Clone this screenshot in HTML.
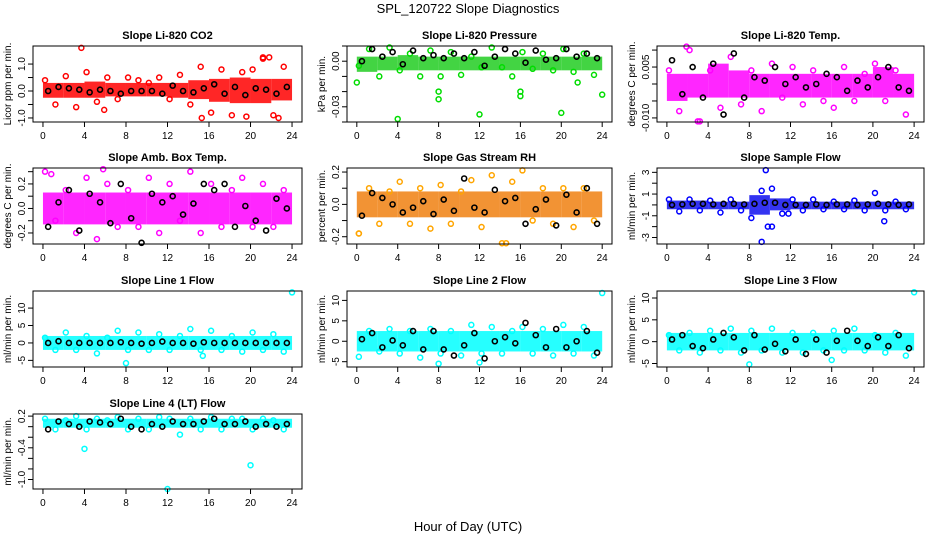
<!DOCTYPE html>
<html><head><meta charset="utf-8"><style>
html,body{margin:0;padding:0;background:#fff;}
svg{display:block;font-family:"Liberation Sans",sans-serif;}
</style></head><body>
<svg id="chart" width="936" height="540" viewBox="0 0 936 540">
<text x="468" y="13" font-size="13" text-anchor="middle">SPL_120722  Slope Diagnostics</text>
<text x="468" y="531" font-size="13" text-anchor="middle">Hour of Day (UTC)</text>
</svg>
<script>
// shared hours
const hoursColored = [0.2,1.2,2.2,3.2,4.2,5.2,6.2,7.2,8.2,9.2,10.2,11.2,12.2,13.2,14.2,15.2,16.2,17.2,18.2,19.2,20.2,21.2,22.2,23.2];
const hoursBlack = [0.5,1.5,2.5,3.5,4.5,5.5,6.5,7.5,8.5,9.5,10.5,11.5,12.5,13.5,14.5,15.5,16.5,17.5,18.5,19.5,20.5,21.5,22.5,23.5];
const bandStarts = [0,2,4,6,8,10,12,14,16,18,20,22];
const xTicks = [0,4,8,12,16,20,24];

const titles = ["Slope Li-820 CO2","Slope Li-820 Pressure","Slope Li-820 Temp.","Slope Amb. Box Temp.","Slope Gas Stream RH","Slope Sample Flow","Slope Line 1 Flow","Slope Line 2 Flow","Slope Line 3 Flow","Slope Line 4 (LT) Flow"];
const yTitles = ["Licor ppm per min.","kPa per min.","degrees C per min.","degrees C per min.","percent per min.","ml/min per min.","ml/min per min.","ml/min per min.","ml/min per min.","ml/min per min."];
const yLims = [[-1.15,1.67],[-0.04,0.01],[-0.0112,0.0112],[-0.29,0.33],[-0.245,0.225],[-3.6,3.4],[-6.9,14.9],[-6.3,12.3],[-5.8,11.6],[-1.18,0.24]];
const yTickMarks = [[-1,-0.5,0,0.5,1],[-0.04,-0.03,-0.02,-0.01,0,0.01],[-0.01,-0.005,0,0.005,0.01],[-0.2,-0.1,0,0.1,0.2,0.3],[-0.2,-0.1,0,0.1,0.2],[-3,-2,-1,0,1,2,3],[-5,0,5,10],[-5,0,5,10],[-5,0,5,10],[-1.0,-0.8,-0.6,-0.4,-0.2,0,0.2]];
const yTickLabels = [[-1,"-1.0",0,"0.0",1,"1.0"],[0,"0.00",-0.03,"-0.03"],[0.005,"0.005",-0.01,"-0.010"],[-0.2,"-0.2",0,"0.0",0.2,"0.2"],[-0.2,"-0.2",0,"0.0",0.2,"0.2"],[-3,"-3",-1,"-1",1,"1",3,"3"],[-5,"-5",0,"0",5,"5",10,"10"],[-5,"-5",0,"0",5,"5",10,"10"],[-5,"-5",0,"0",5,"5",10,"10"],[-1,"-1.0",-0.4,"-0.4",0.2,"0.2"]];
const colors = ["#ff0000","#00dd00","#ff00ff","#ff00ff","#ffa500","#0000ff","#00ffff","#00ffff","#00ffff","#00ffff"];
const bandColors = ["#ff0000","#22cc22","#ff00ff","#ff00ff","#f08010","#1010ee","#00ffff","#00ffff","#00ffff","#00ffff"];

const bandLo = [
[-0.25,-0.25,-0.25,-0.2,-0.2,-0.2,-0.25,-0.3,-0.4,-0.45,-0.45,-0.35],
[-0.007,-0.006,-0.006,-0.006,-0.006,-0.006,-0.006,-0.006,-0.006,-0.006,-0.006,-0.006],
[-0.005,-0.004,-0.004,-0.004,-0.004,-0.004,-0.004,-0.004,-0.004,-0.004,-0.004,-0.004],
[-0.13,-0.13,-0.13,-0.13,-0.13,-0.13,-0.13,-0.13,-0.13,-0.13,-0.13,-0.13],
[-0.08,-0.08,-0.08,-0.08,-0.08,-0.08,-0.08,-0.08,-0.08,-0.08,-0.08,-0.08],
[-0.4,-0.4,-0.4,-0.4,-0.9,-0.5,-0.4,-0.4,-0.4,-0.4,-0.4,-0.4],
[-2,-2,-2,-2,-2,-2,-2,-2,-2,-2,-2,-2],
[-2.5,-2.5,-2.5,-2.5,-2.5,-2.5,-2.5,-2.5,-2.5,-2.5,-2.5,-2.5],
[-2,-2,-2,-2,-2,-2,-2,-2,-2,-2,-2,-2],
[-0.02,-0.02,-0.02,-0.02,-0.02,-0.02,-0.02,-0.02,-0.02,-0.02,-0.02,-0.02]];
const bandHi = [
[0.3,0.3,0.35,0.3,0.3,0.3,0.3,0.4,0.45,0.5,0.45,0.45],
[0.003,0.003,0.004,0.003,0.003,0.003,0.003,0.003,0.003,0.003,0.003,0.003],
[0.003,0.003,0.006,0.004,0.003,0.003,0.003,0.003,0.003,0.003,0.005,0.003],
[0.13,0.13,0.13,0.13,0.13,0.13,0.13,0.13,0.13,0.13,0.13,0.13],
[0.08,0.08,0.08,0.08,0.08,0.08,0.08,0.08,0.08,0.08,0.08,0.08],
[0.4,0.4,0.3,0.3,0.9,0.6,0.3,0.3,0.3,0.3,0.3,0.3],
[2,2,2,2,2,2,2,2,2,2,2,2],
[2.5,2.5,2.5,2.5,2.5,2.5,2.5,2.5,2.5,2.5,2.5,2.5],
[2,2,2,2,2,2,2,2,2,2,2,2],
[0.15,0.15,0.15,0.15,0.15,0.15,0.15,0.15,0.15,0.15,0.15,0.15]];

const coloredVals = [
[0.4,-0.5,0.55,-0.6,0.7,-0.4,0.5,-0.3,0.5,0.4,0.3,0.5,-0.3,0.6,-0.5,0.9,-0.8,0.8,-0.9,0.7,0.8,1.2,-0.9,0.9],
[-0.003,0.008,-0.01,0.009,-0.006,0.005,-0.01,0.007,-0.01,0.006,-0.009,0.003,-0.004,0.009,-0.004,-0.01,0.006,-0.005,0.005,-0.006,0.008,-0.007,0.005,-0.009],
[0.004,-0.008,0.01,-0.011,0.004,-0.007,0.008,-0.006,0.004,-0.008,0.006,-0.004,0.005,-0.006,0.004,-0.005,-0.007,0.005,-0.005,0.003,0.006,-0.005,0.004,-0.009],
[0.3,-0.1,0.15,-0.2,0.25,-0.25,0.2,-0.15,0.15,-0.15,0.25,-0.2,0.2,-0.1,0.3,-0.2,0.2,-0.15,0.15,0.25,-0.15,0.2,-0.15,0.15],
[-0.18,0.1,-0.12,0.08,0.14,-0.12,0.1,-0.15,0.12,-0.12,0.08,0.15,-0.14,0.18,-0.24,0.14,0.21,-0.1,0.1,-0.12,0.1,-0.14,0.1,-0.1],
[0.5,-0.6,0.5,-0.5,0.4,-0.7,0.5,-0.5,-1.2,1.3,1.5,-0.8,0.5,-0.5,0.5,-0.4,0.3,-0.4,0.4,-0.5,1.1,-0.5,0.3,-0.4],
[1.5,-2,3,-2,2,-3,1.5,3.5,-2,3,-2,2.5,-2,2,4,-2,3.5,-2,2,-2.5,3,-2,2.5,-2.5],
[-3.8,2.5,-2.5,3,-3,2.5,-4,3,-3,2.5,-3.5,4,-3,3.5,-3,2.5,3.5,-3,3,-3.5,4,-3,3.5,-3.5],
[1.5,-2,2,-2.5,2.5,-2,3,-2.5,2.5,-2,3,-2.5,2,-2.5,2,-2,2.5,-2,3,-2,1.5,-2.5,2,-3.2],
[0.15,-0.05,0.12,0.2,-0.05,0.15,0.12,0.18,-0.05,0.15,-0.05,0.18,0.15,-0.15,0.15,-0.05,0.18,-0.05,0.15,0.15,-0.05,0.15,0.12,-0.05]];

const outlierX = [[3.7,5.9,15.3,19.6,21.8,22.7,21.2],[0,4,8,8,12,16,16,20,21.6,24],[1.9,3.0],[5.8,0.8],[0.2,14.6],[9.6,9.2,10.2,9.8,21.1,11.8],[24,8,15.4],[24,8,12],[24,8,16],[4,12,20]];
const outlierY = [[1.6,-0.7,-1.0,-0.95,1.25,-1.0,1.25],[-0.014,-0.038,-0.02,-0.025,-0.035,-0.02,-0.023,-0.034,-0.014,-0.022],[0.011,-0.011],[0.32,0.28],[-0.18,-0.24],[3.2,-3.4,-2.0,-2.0,-1.5,-0.8],[14.5,-5.8,-3.7],[11.8,-5.5,-5.2],[11.3,-5.2,-4.2],[-0.42,-1.18,-0.73]];

const blackVals = [
[0.0,0.15,0.1,0.05,-0.05,0.05,0.0,-0.1,0.0,0.0,0.0,-0.1,0.2,0.0,-0.05,0.1,0.25,-0.1,0.15,-0.15,0.1,0.05,-0.1,0.15],
[0,0.008,0.003,0.006,-0.002,0.007,0.002,0.004,0.002,0.005,0.002,0.006,-0.003,0.003,0.008,0.005,-0.001,0.007,0.001,0.002,0.008,0.003,0.005,0.002],
[0.007,-0.003,0.005,-0.004,0.006,-0.009,0.009,-0.004,0.002,0.001,0.005,0,0.002,-0.001,0.0,0.003,0.002,-0.002,0.001,-0.001,0.002,0.005,-0.001,-0.002],
[-0.15,0.05,0.15,-0.18,0.12,0.05,-0.12,0.2,-0.08,-0.28,0.12,0.05,0.1,-0.05,0.04,0.2,0.15,0.2,-0.15,0.02,-0.1,-0.18,0.08,0.0],
[-0.07,0.07,0.04,0.0,-0.05,-0.02,0.02,-0.06,0.03,-0.04,0.16,-0.02,-0.05,0.09,0.02,0.04,-0.12,-0.03,0.03,-0.13,0.06,-0.05,0.1,-0.12],
[0,0.05,0.1,0.1,0.05,0.1,0.1,0.05,0.1,0.2,0.2,0,0,0,0.05,0,0.05,0.05,0,0.05,0.1,0.05,0,0.05],
[0,0.5,0,0,0,0,0,0.2,0,-0.2,0,0.4,0,0,-0.2,0.2,0,0,0,0,0,0,0,0],
[0.5,2,-1.5,0.2,-1,2.5,-2,2.5,-2,-3.5,-1,2,-4.2,0,1,-0.5,4.5,1.5,-1.5,3,-1.5,0,2.5,-2.8],
[0.5,1.5,-1,-1.5,0.5,2,1,-2,1.5,-1.8,-0.5,-2.2,0.5,-2.8,0.5,-2.5,0.2,2.5,0.2,-1,1,-1,1.5,-1.5],
[-0.05,0.1,0.05,0.0,0.1,0.08,0.05,0.15,0.0,-0.05,0.05,0.0,0.1,0.05,0.05,0.1,0.15,0.05,0.05,0.1,0.0,0.05,0.0,0.05]];

const NS = "http://www.w3.org/2000/svg";
const svg = document.getElementById("chart");
const colLeft = [33,347,657], colRight = [302,612,924];
const rowTop = [46,168,291,414], rowBottom = [122,244,367,489];
function mk(tag, attrs, parent){ const e=document.createElementNS(NS,tag); for(const k in attrs) e.setAttribute(k,attrs[k]); (parent||svg).appendChild(e); return e; }

for(let p=0;p<10;p++){
  const c=p%3, r=Math.floor(p/3);
  const L=colLeft[c], R=colRight[c], T=rowTop[r], B=rowBottom[r];
  const [y0,y1]=yLims[p];
  const xs = v => L + (v+0.96)/25.92*(R-L);
  const ys = v => B - (v-y0)/(y1-y0)*(B-T);
  const g = mk("g",{});
  
  
  const t = mk("text",{x:(L+R)/2,y:T-7,"font-size":"11","font-weight":"bold","text-anchor":"middle"},g);
  t.textContent = titles[p];
  
  
  const yt = mk("text",{x:0,y:0,"font-size":"10","text-anchor":"middle",transform:`translate(${L-22},${(T+B)/2}) rotate(-90)`},g);
  yt.textContent = yTitles[p];
  
  
  // band
  for(let i=0;i<bandStarts.length;i++){
    const x1=xs(bandStarts[i]), x2=xs(bandStarts[i]+2);
    const rc = mk("rect",{x:x1,y:ys(bandHi[p][i]),width:x2-x1,height:ys(bandLo[p][i])-ys(bandHi[p][i]),fill:bandColors[p],opacity:"0.85"},g);
    
    
  }
  for(let i=0;i<coloredVals[p].length;i++){
    const pt = mk("circle",{cx:xs(hoursColored[i]),cy:ys(coloredVals[p][i]),r:2.5,fill:"none",stroke:colors[p],"stroke-width":1.5},g);
    
    
  }
  for(let i=0;i<outlierX[p].length;i++){
    const pt = mk("circle",{cx:xs(outlierX[p][i]),cy:ys(outlierY[p][i]),r:2.5,fill:"none",stroke:colors[p],"stroke-width":1.5},g);
    
    
  }
  for(let i=0;i<blackVals[p].length;i++){
    const pt = mk("circle",{cx:xs(hoursBlack[i]),cy:ys(blackVals[p][i]),r:2.5,fill:"none",stroke:"#000","stroke-width":1.6},g);
    
    
  }
  const box = mk("rect",{x:L,y:T,width:R-L,height:B-T,fill:"none",stroke:"#000","stroke-width":1},g);
  
  
  // x axis
  mk("line",{x1:xs(0),x2:xs(24),y1:B,y2:B,stroke:"#000"},g);
  for(const v of xTicks){
    mk("line",{x1:xs(v),x2:xs(v),y1:B,y2:B+5,stroke:"#000"},g);
    const tl = mk("text",{x:xs(v),y:B+17,"font-size":"10","text-anchor":"middle"},g);
    tl.textContent = v;
    
    
  }
  // y axis
  for(const v of yTickMarks[p]){
    mk("line",{x1:L-5,x2:L,y1:ys(v),y2:ys(v),stroke:"#000"},g);
  }
  const lab = yTickLabels[p];
  for(let i=0;i<lab.length;i+=2){
    const tl = mk("text",{x:0,y:0,"font-size":"10","text-anchor":"middle",transform:`translate(${L-8},${ys(lab[i])}) rotate(-90)`},g);
    tl.textContent = lab[i+1];
    
    
  }
}
</script>
</body></html>
